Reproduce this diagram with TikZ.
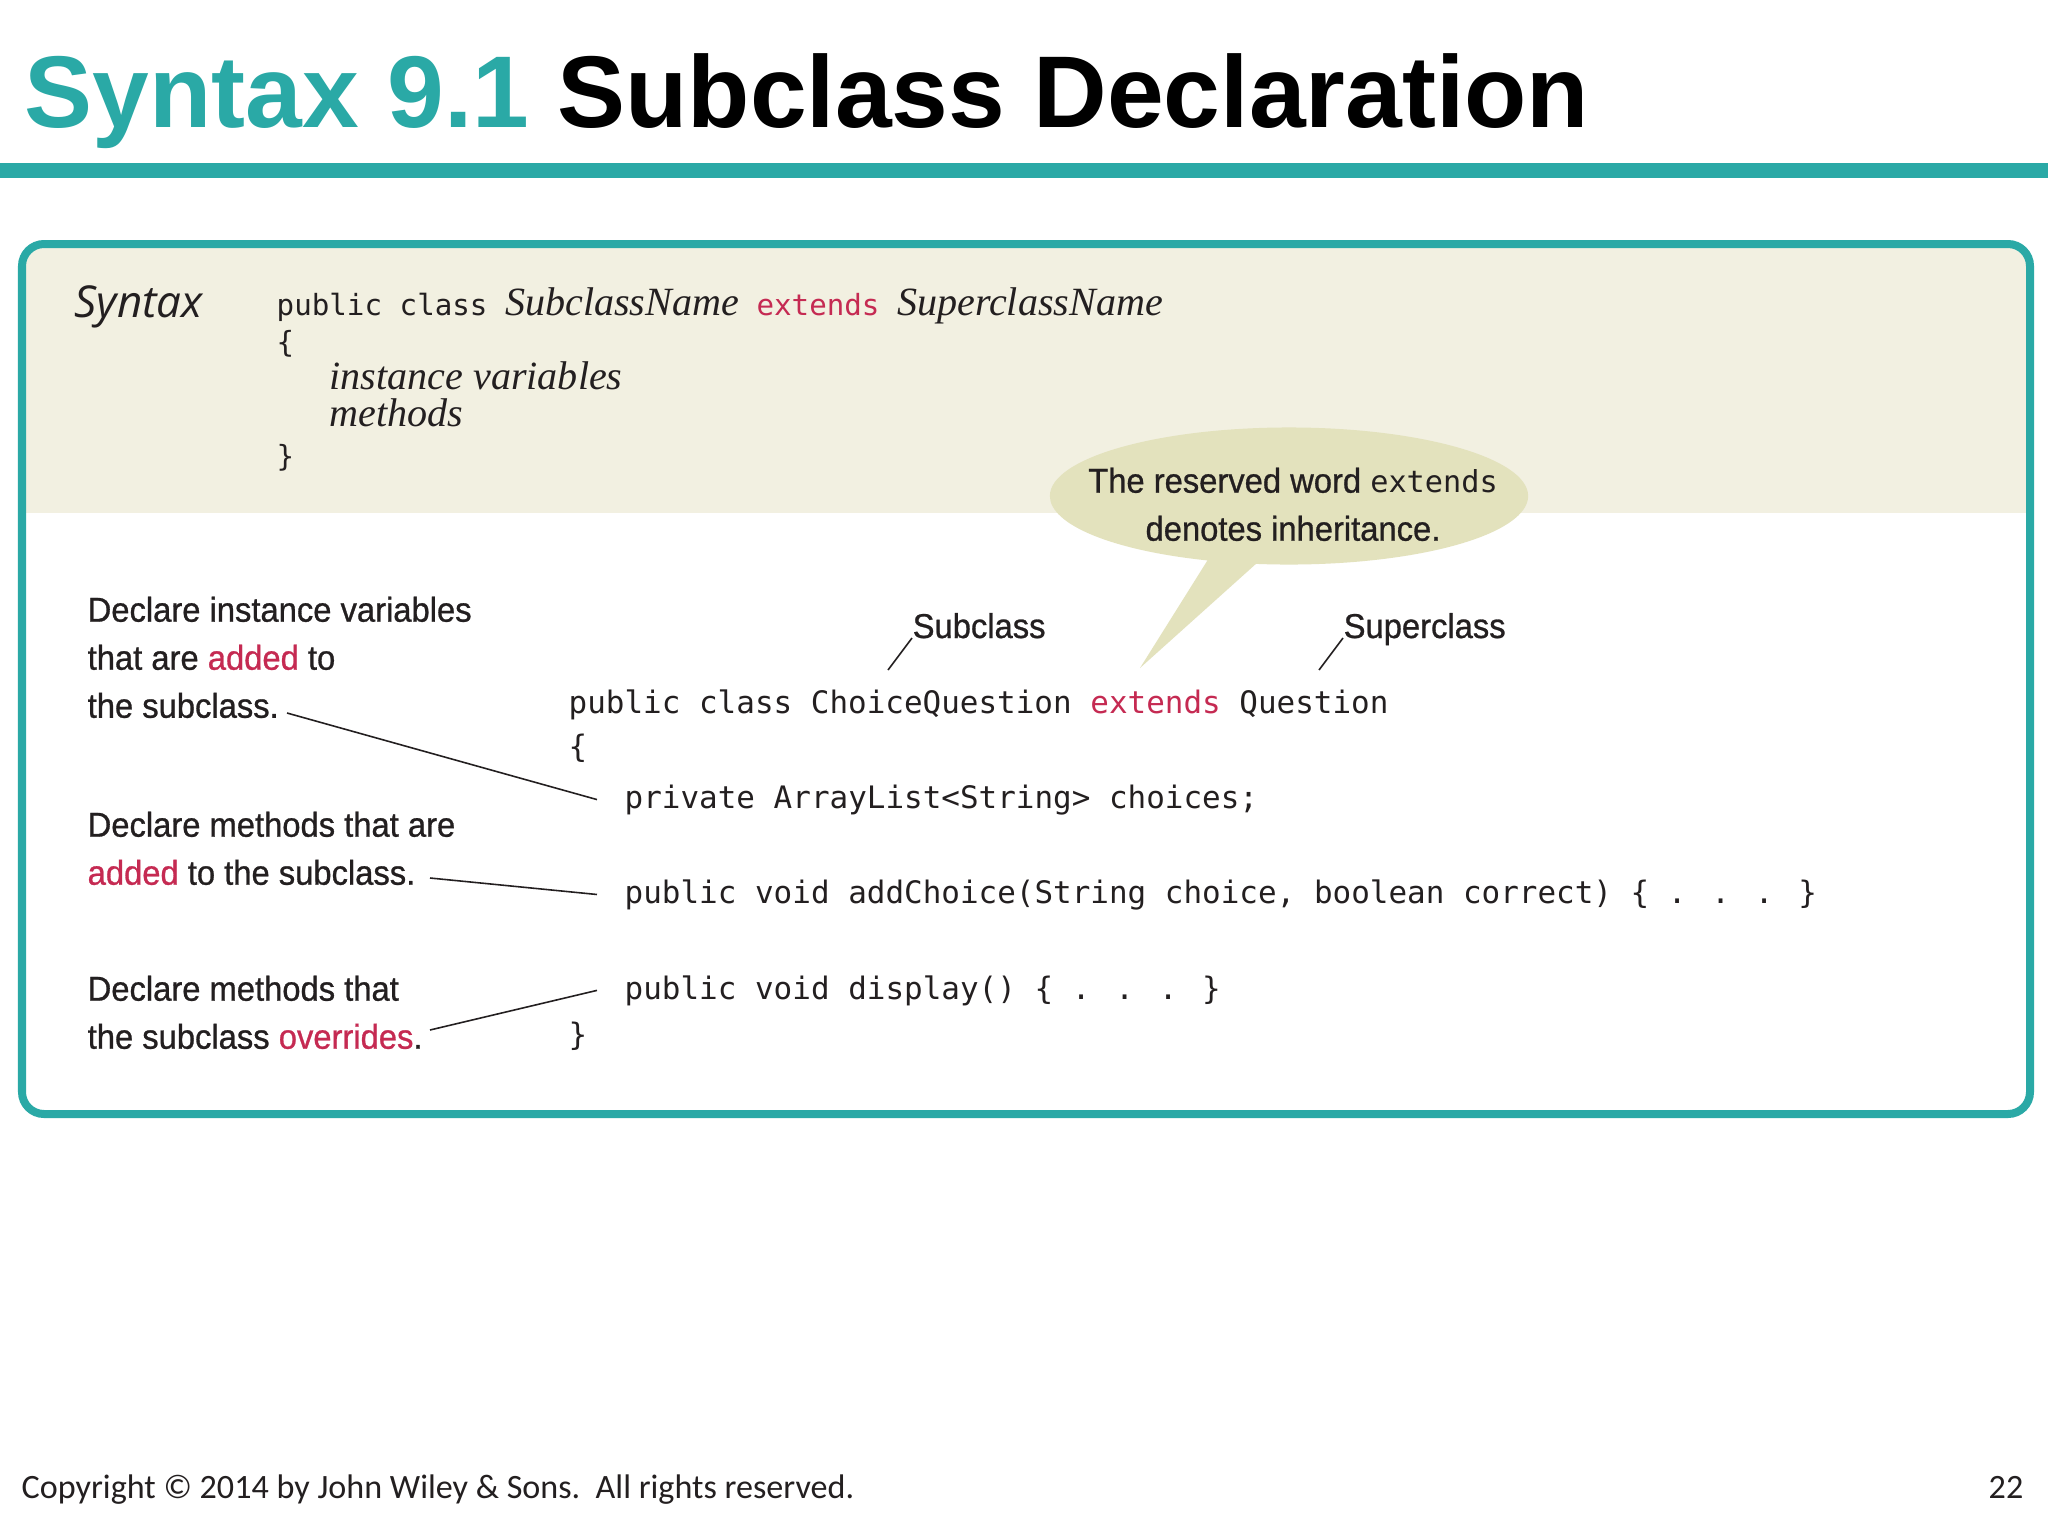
\documentclass[tikz,border=0pt]{standalone}
\usepackage{fontspec}
\usepackage{xcolor}
\definecolor{titleteal}{HTML}{2AA9A6}
\definecolor{bandbeige}{HTML}{F2F0E1}
\definecolor{bubbleolive}{HTML}{E3E2BD}
\definecolor{keyred}{HTML}{C52A52}
\definecolor{inkgray}{HTML}{231F20}
\usepackage{tikz}
\usetikzlibrary{shapes.callouts}
\setmainfont{Liberation Sans}
\newfontfamily\titlefont{Liberation Sans}
\newfontfamily\codefont{DejaVu Sans Mono}
\newfontfamily\metafont{Liberation Serif}
\newfontfamily\handfont[FakeStretch=0.95,FakeBold=0.8]{Liberation Sans}
\newfontfamily\labelfont{Open Sans}
\newfontfamily\footfont{Carlito}
\newcommand{\synmeta}[1]{{\metafont\itshape\fontsize{11.4}{14}\selectfont #1}}

\begin{document}
\begin{tikzpicture}[x=0.01cm, y=-0.01cm,
    hand/.style={font=\handfont\fontsize{9.8}{13.66}\selectfont, text=inkgray, align=left, inner sep=0pt},
    code/.style={font=\codefont\fontsize{8.8}{12}\selectfont, text=inkgray, inner sep=0pt, anchor=base west},
    synline/.style={font=\codefont\fontsize{8.3}{12}\selectfont, text=inkgray, inner sep=0pt, anchor=base west},
    meta/.style={synline, font=\metafont\itshape\fontsize{11.4}{14}\selectfont},
    pointer/.style={draw=inkgray, line width=0.45pt}]
    % page and heading
    \useasboundingbox (0,0) rectangle (2048,1536);
    \fill[white] (0,0) rectangle (2048,1536);
    \node[anchor=base west, inner sep=0pt, font=\titlefont\bfseries\fontsize{29}{34}\selectfont] (title) at (24,127) {\textcolor{titleteal}{Syntax 9.1} Subclass Declaration};
    \fill[titleteal] (0,163) rectangle (2048,178);
    % box with the beige band on top
    \begin{scope}
        \clip[rounded corners=0.22cm] (22,244) rectangle (2030,1114);
        \fill[bandbeige] (22,244) rectangle (2030,513);
    \end{scope}
    \draw[titleteal, line width=0.08cm, rounded corners=0.22cm] (22,244) rectangle (2030,1114);
    % general form
    \node[anchor=base west, inner sep=0pt, font=\labelfont\itshape\fontsize{12.5}{14}\selectfont, text=inkgray] (synlabel) at (74,317) {Syntax};
    \node[synline] (synhead) at (276,315) {public class \synmeta{SubclassName} \textcolor{keyred}{extends} \synmeta{SuperclassName}};
    \node[synline] (synopen) at (276,352) {\{};
    \node[meta] (synvars) at (329,389) {instance variables};
    \node[meta] (synmethods) at (329,426) {methods};
    \node[synline] (synclose) at (276,466) {\}};
    % speech bubble
    \coordinate (bubbletip) at (1140,668);
    \node[ellipse callout, fill=bubbleolive, minimum width=4.78cm, minimum height=1.37cm, inner sep=0pt, callout absolute pointer={(bubbletip)}, callout pointer arc=12] (bubble) at (1289,496) {};
    \node[hand, align=center, anchor=north] (bubbletext) at (1293,467) {The reserved word {\codefont\fontsize{8.6}{12}\selectfont extends}\\denotes inheritance.};
    % example code
    \node[code] (codehead) at (568,713) {public class ChoiceQuestion \textcolor{keyred}{extends} Question};
    \node[code] (codeopen) at (568,757) {\{};
    \node[code] (codefield) at (624,808) {private ArrayList<String> choices;};
    \node[code] (codeadd) at (624,903) {public void addChoice(String choice, boolean correct) \{ . . . \}};
    \node[code] (codedisplay) at (624,999) {public void display() \{ . . . \}};
    \node[code] (codeclose) at (568,1045) {\}};
    % class labels
    \node[hand, anchor=base west] (sublabel) at (912,638) {Subclass};
    \node[hand, anchor=base west] (superlabel) at (1343,638) {Superclass};
    \coordinate (subfoot) at (888,670);
    \coordinate (superfoot) at (1319,670);
    \draw[pointer] (sublabel.base west) -- (subfoot);
    \draw[pointer] (superlabel.base west) -- (superfoot);
    % notes on the left
    \node[hand, anchor=north west] (notevars) at (87,596) {Declare instance variables\\that are \textcolor{keyred}{added} to\\the subclass.};
    \node[hand, anchor=north west] (noteadded) at (87,811) {Declare methods that are\\\textcolor{keyred}{added} to the subclass.};
    \node[hand, anchor=north west] (noteover) at (87,975) {Declare methods that\\the subclass \textcolor{keyred}{overrides}.};
    \coordinate (varsend) at (287,713);
    \coordinate (addedend) at (430,878);
    \coordinate (overend) at (430,1030);
    \draw[pointer] (varsend) -- ([xshift=-0.27cm]codefield.west);
    \draw[pointer] (addedend) -- ([xshift=-0.27cm]codeadd.west);
    \draw[pointer] (overend) -- ([xshift=-0.27cm]codedisplay.west);
    % footer
    \node[anchor=base west, inner sep=0pt, font=\footfont\fontsize{9.7}{11}\selectfont, text=inkgray] (copyright) at (21,1498) {Copyright © 2014 by John Wiley \& Sons.\ \ All rights reserved.};
    \node[anchor=base east, inner sep=0pt, font=\footfont\fontsize{9.7}{11}\selectfont, text=inkgray] (pagenum) at (2024,1498) {22};
\end{tikzpicture}
\end{document}
